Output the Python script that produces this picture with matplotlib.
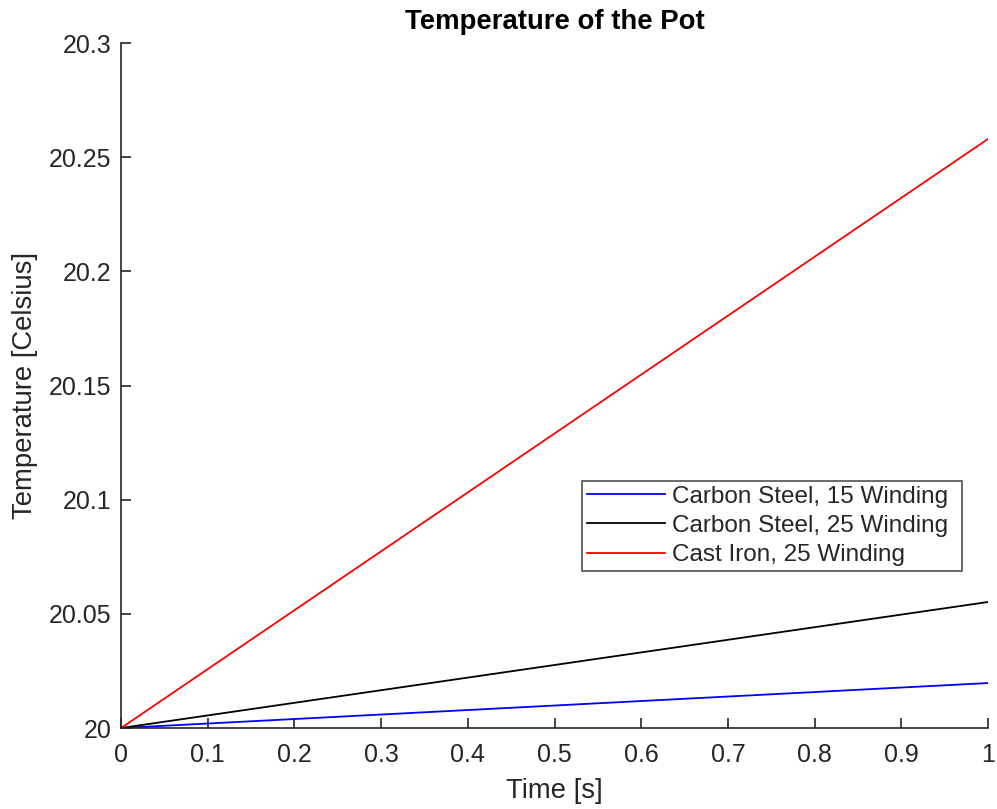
import matplotlib
matplotlib.use("Agg")
import matplotlib.pyplot as plt

# =============================
# Data
# =============================
time_s = [0, 1]
cs_15 = [20.0, 20.0197]
cs_25 = [20.0, 20.0552]
ci_25 = [20.0, 20.258]

labels = ["Carbon Steel, 15 Winding", "Carbon Steel, 25 Winding", "Cast Iron, 25 Winding"]
xticks = [0, 0.1, 0.2, 0.3, 0.4, 0.5, 0.6, 0.7, 0.8, 0.9, 1]
yticks = [20, 20.05, 20.1, 20.15, 20.2, 20.25, 20.3]

plt.rcParams["font.family"] = ["Liberation Sans", "DejaVu Sans"]
AX_COLOR = "#262626"

# =============================
# Plot
# =============================
fig = plt.figure(figsize=(9.97, 8.09), dpi=100)
ax = fig.add_axes([0.1214, 0.1001, 0.8696, 0.8467])

ax.plot(time_s, cs_15, color="#0000ff", lw=1.3, label=labels[0])
ax.plot(time_s, cs_25, color="black", lw=1.3, label=labels[1])
ax.plot(time_s, ci_25, color="#ff0000", lw=1.3, label=labels[2])

ax.set_xlim(0, 1)
ax.set_ylim(20, 20.3)
ax.set_xticks(xticks)
ax.set_xticklabels(["0", "0.1", "0.2", "0.3", "0.4", "0.5", "0.6", "0.7", "0.8", "0.9", "1"])
ax.set_yticks(yticks)
ax.set_yticklabels(["20", "20.05", "20.1", "20.15", "20.2", "20.25", "20.3"])

for side in ["top", "right"]:
    ax.spines[side].set_visible(False)
for side in ["left", "bottom"]:
    ax.spines[side].set_color(AX_COLOR)
    ax.spines[side].set_linewidth(1.2)

ax.tick_params(direction="in", length=7, width=1.2, color=AX_COLOR,
               labelcolor=AX_COLOR, labelsize=18)
ax.tick_params(axis="x", pad=11)
ax.tick_params(axis="y", pad=7)

ax.set_xlabel("Time [s]", fontsize=19.8, color=AX_COLOR)
ax.set_ylabel("Temperature [Celsius]", fontsize=19.8, color=AX_COLOR)
ax.xaxis.set_label_coords(0.5, -0.0724)
ax.yaxis.set_label_coords(-0.0957, 0.5)
ax.set_title("Temperature of the Pot", fontsize=19.8, fontweight="bold", pad=10)

leg = ax.legend(loc="lower left", bbox_to_anchor=(0.532, 0.229, 0.438, 0.136),
                mode="expand", fontsize=17.5, frameon=True, fancybox=False,
                handlelength=3.2, handletextpad=0.3, borderpad=0.2,
                labelspacing=0.3, borderaxespad=0)
leg.get_frame().set_edgecolor(AX_COLOR)
leg.get_frame().set_linewidth(1.2)
for t in leg.get_texts():
    t.set_color(AX_COLOR)

fig.savefig("out.png", dpi=100)
